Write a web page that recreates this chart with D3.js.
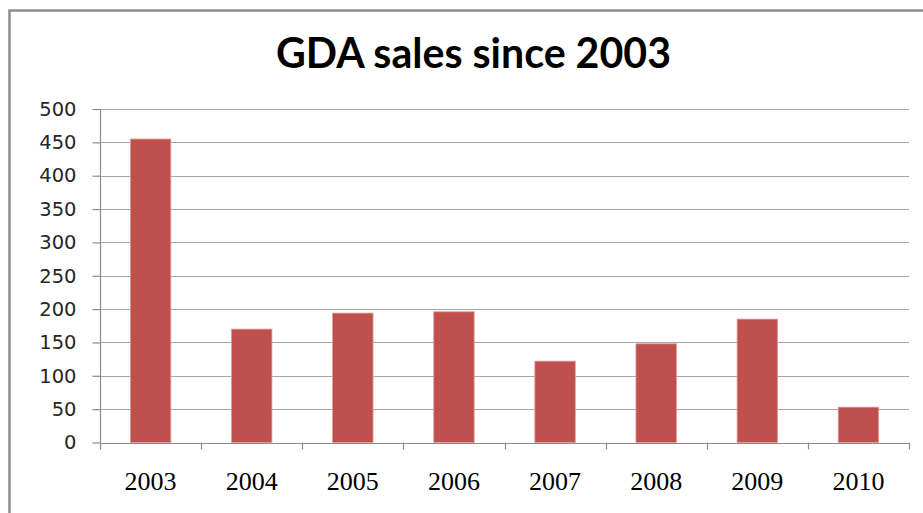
<!DOCTYPE html>
<html>
<head>
<meta charset="utf-8">
<script src="https://cdn.jsdelivr.net/npm/d3@7"></script>
<style>
  html, body { margin: 0; padding: 0; background: #fff; }
  svg { display: block; }
</style>
</head>
<body>
<svg id="chart" width="923" height="513"></svg>
<script>
// Annual GDA sales
const years = ["2003", "2004", "2005", "2006", "2007", "2008", "2009", "2010"];
const sales = [455, 170, 194, 196, 122, 148, 185, 53];
const yTicks = [0, 50, 100, 150, 200, 250, 300, 350, 400, 450, 500];
const titleText = "GDA sales since 2003";

const W = 923, H = 513;
const plot = { left: 100, right: 909, top: 109, bottom: 442.5 };

const svg = d3.select("#chart");

// outer chart frame (left and top edges visible)
svg.append("path")
  .attr("d", `M9.5,${H + 2} V10.5 H${W + 2}`)
  .attr("fill", "none")
  .attr("stroke", "#8c8c8c")
  .attr("stroke-width", 2.5);

const x = d3.scaleBand()
  .domain(years)
  .range([plot.left, plot.right])
  .paddingInner(0.6)
  .paddingOuter(0.3);

const y = d3.scaleLinear()
  .domain([0, 500])
  .range([plot.bottom, plot.top]);

// horizontal gridlines
svg.append("g")
  .selectAll("line")
  .data(yTicks.filter(d => d > 0))
  .join("line")
  .attr("x1", plot.left)
  .attr("x2", plot.right)
  .attr("y1", d => Math.round(y(d)) + 0.5)
  .attr("y2", d => Math.round(y(d)) + 0.5)
  .attr("stroke", "#a6a6a6")
  .attr("stroke-width", 1.2);

// bars
svg.append("g")
  .selectAll("rect")
  .data(years.map((yr, i) => ({ yr, v: sales[i] })))
  .join("rect")
  .attr("x", d => x(d.yr))
  .attr("width", x.bandwidth())
  .attr("y", d => y(d.v))
  .attr("height", d => y(0) - y(d.v))
  .attr("fill", "#c0504d")
  .attr("stroke", "#dd9c9a")
  .attr("stroke-width", 0.8);

// y axis
const yAxis = d3.axisLeft(y)
  .tickValues(yTicks)
  .tickSize(8)
  .tickPadding(16)
  .tickFormat(d3.format("d"));

const gy = svg.append("g")
  .attr("transform", `translate(${plot.left + 0.5},0)`)
  .call(yAxis);
gy.select(".domain").attr("stroke", "#8c8c8c").attr("stroke-width", 1.2)
  .attr("d", `M0,${plot.top}V${plot.bottom}`);
gy.selectAll(".tick line").attr("stroke", "#8c8c8c").attr("stroke-width", 1.2);
gy.selectAll(".tick text")
  .attr("font-family", "'DejaVu Sans', Verdana, sans-serif")
  .attr("font-size", 19.5)
  .attr("fill", "#262626");

// x axis: ticks at category boundaries
const bounds = years.map(yr => x(yr) - x.step() * 0.3).concat([plot.right]);
const gx = svg.append("g");
gx.append("line")
  .attr("x1", plot.left).attr("x2", plot.right)
  .attr("y1", Math.round(plot.bottom) + 0.5).attr("y2", Math.round(plot.bottom) + 0.5)
  .attr("stroke", "#8c8c8c").attr("stroke-width", 1.2);
gx.selectAll("line.tk")
  .data(bounds)
  .join("line")
  .attr("class", "tk")
  .attr("x1", d => Math.round(d) + 0.5).attr("x2", d => Math.round(d) + 0.5)
  .attr("y1", plot.bottom).attr("y2", plot.bottom + 7)
  .attr("stroke", "#8c8c8c").attr("stroke-width", 1.2);
gx.selectAll("text")
  .data(years)
  .join("text")
  .attr("x", d => x(d) + x.bandwidth() / 2)
  .attr("y", 490)
  .attr("text-anchor", "middle")
  .attr("font-family", "'Liberation Serif', 'Times New Roman', serif")
  .attr("font-size", 26)
  .attr("fill", "#000")
  .text(d => d);

// title
const title = svg.append("text")
  .attr("x", 473.5)
  .attr("y", 68)
  .attr("text-anchor", "middle")
  .attr("font-family", "Lato, 'Open Sans', sans-serif")
  .attr("font-weight", "bold")
  .attr("font-size", 35)
  .attr("fill", "#000")
  .text(titleText);
// size the title so it spans the intended width
const tw = title.node().getComputedTextLength();
title.attr("font-size", 35 * 395 / tw);
</script>
</body>
</html>
